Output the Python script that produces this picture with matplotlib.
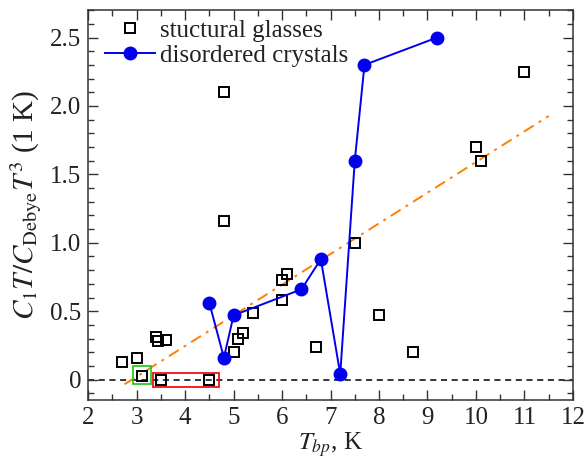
import matplotlib
matplotlib.use("Agg")
import matplotlib.pyplot as plt
from matplotlib.patches import Rectangle
from matplotlib.ticker import MultipleLocator, FixedLocator, FixedFormatter
import numpy as np

plt.rcParams['font.family'] = ['Liberation Serif', 'DejaVu Serif']
plt.rcParams['mathtext.fontset'] = 'stix'

# structural glasses
glass_x = [2.7, 3.0, 3.1, 3.4, 3.45, 3.6, 3.5, 4.5, 4.8, 4.8, 5.0, 5.1, 5.2, 5.4,
           6.0, 6.0, 6.1, 6.7, 7.5, 8.0, 8.7, 10.0, 10.1, 11.0]
glass_y = [0.13, 0.16, 0.03, 0.31, 0.28, 0.29, 0.0, 0.0, 2.1, 1.16, 0.20, 0.30, 0.34, 0.49,
           0.58, 0.73, 0.77, 0.24, 1.0, 0.47, 0.20, 1.70, 1.60, 2.25]

# disordered crystals
cryst_x = [4.5, 4.8, 5.0, 6.4, 6.8, 7.2, 7.5, 7.7, 9.2]
cryst_y = [0.56, 0.16, 0.47, 0.66, 0.88, 0.04, 1.60, 2.30, 2.50]

# linear fit
fit_x = [2.75, 11.5]
fit_slope = 0.224
fit_intercept = -0.65

# highlight boxes (x0, y0, width, height)
green_box = (2.92, -0.032, 0.38, 0.129)
red_box = (3.34, -0.054, 1.35, 0.105)

xticks = [2, 3, 4, 5, 6, 7, 8, 9, 10, 11, 12]
yticks = [0, 0.5, 1.0, 1.5, 2.0, 2.5]
yticklabels = ['0', '0.5', '1.0', '1.5', '2.0', '2.5']

fig = plt.figure(figsize=(5.84, 4.61), dpi=100)
ax = fig.add_axes([0.151, 0.132, 0.830, 0.846])

ax.axhline(0, color='black', linestyle=(0, (4, 3)), linewidth=1.1, zorder=1)

fx = np.array(fit_x)
ax.plot(fx, fit_slope * fx + fit_intercept, color='#ff8000', linestyle=(0, (6, 3, 1.5, 3)),
        linewidth=1.4, zorder=2)

ax.plot(glass_x, glass_y, linestyle='none', marker='s', markersize=7, markerfacecolor='none',
        markeredgecolor='black', markeredgewidth=1.4, label='stuctural glasses', zorder=3)
ax.plot(cryst_x, cryst_y, color='#0000ee', marker='o', markersize=9, linewidth=1.4,
        markerfacecolor='#0000ee', markeredgecolor='#0000ee', label='disordered crystals', zorder=4)

ax.add_patch(Rectangle(green_box[:2], green_box[2], green_box[3], fill=False,
                       edgecolor='#22cc22', linewidth=1.3, zorder=5))
ax.add_patch(Rectangle(red_box[:2], red_box[2], red_box[3], fill=False,
                       edgecolor='#ee1111', linewidth=1.3, zorder=5))

ax.set_xlim(2, 12)
ax.set_ylim(-0.15, 2.7)
ax.xaxis.set_major_locator(FixedLocator(xticks))
ax.xaxis.set_minor_locator(MultipleLocator(0.5))
ax.yaxis.set_major_locator(FixedLocator(yticks))
ax.yaxis.set_major_formatter(FixedFormatter(yticklabels))
ax.yaxis.set_minor_locator(MultipleLocator(0.1))
ax.tick_params(which='both', direction='in', top=True, right=True, labelsize=18,
               color='#333333', labelcolor='#222222')
ax.tick_params(which='major', length=7, width=1, pad=5)
ax.tick_params(which='minor', length=4.5, width=1)
for s in ax.spines.values():
    s.set_color('#333333')
    s.set_linewidth(1.1)

ax.set_xlabel(r'$T_{bp}$, K', fontsize=18, labelpad=1, color='#222222')
ax.set_ylabel(r'$C_1T/C_{\rm Debye}T^3$ (1 K)', fontsize=21, labelpad=4, color='#222222')

ax.legend(loc='upper left', frameon=False, fontsize=18, handlelength=2.0,
          borderaxespad=0.1, borderpad=0.2, labelspacing=0.1, handletextpad=0.2,
          bbox_to_anchor=(0.02, 0.995), labelcolor='#222222')

fig.savefig('out.png', dpi=100)
